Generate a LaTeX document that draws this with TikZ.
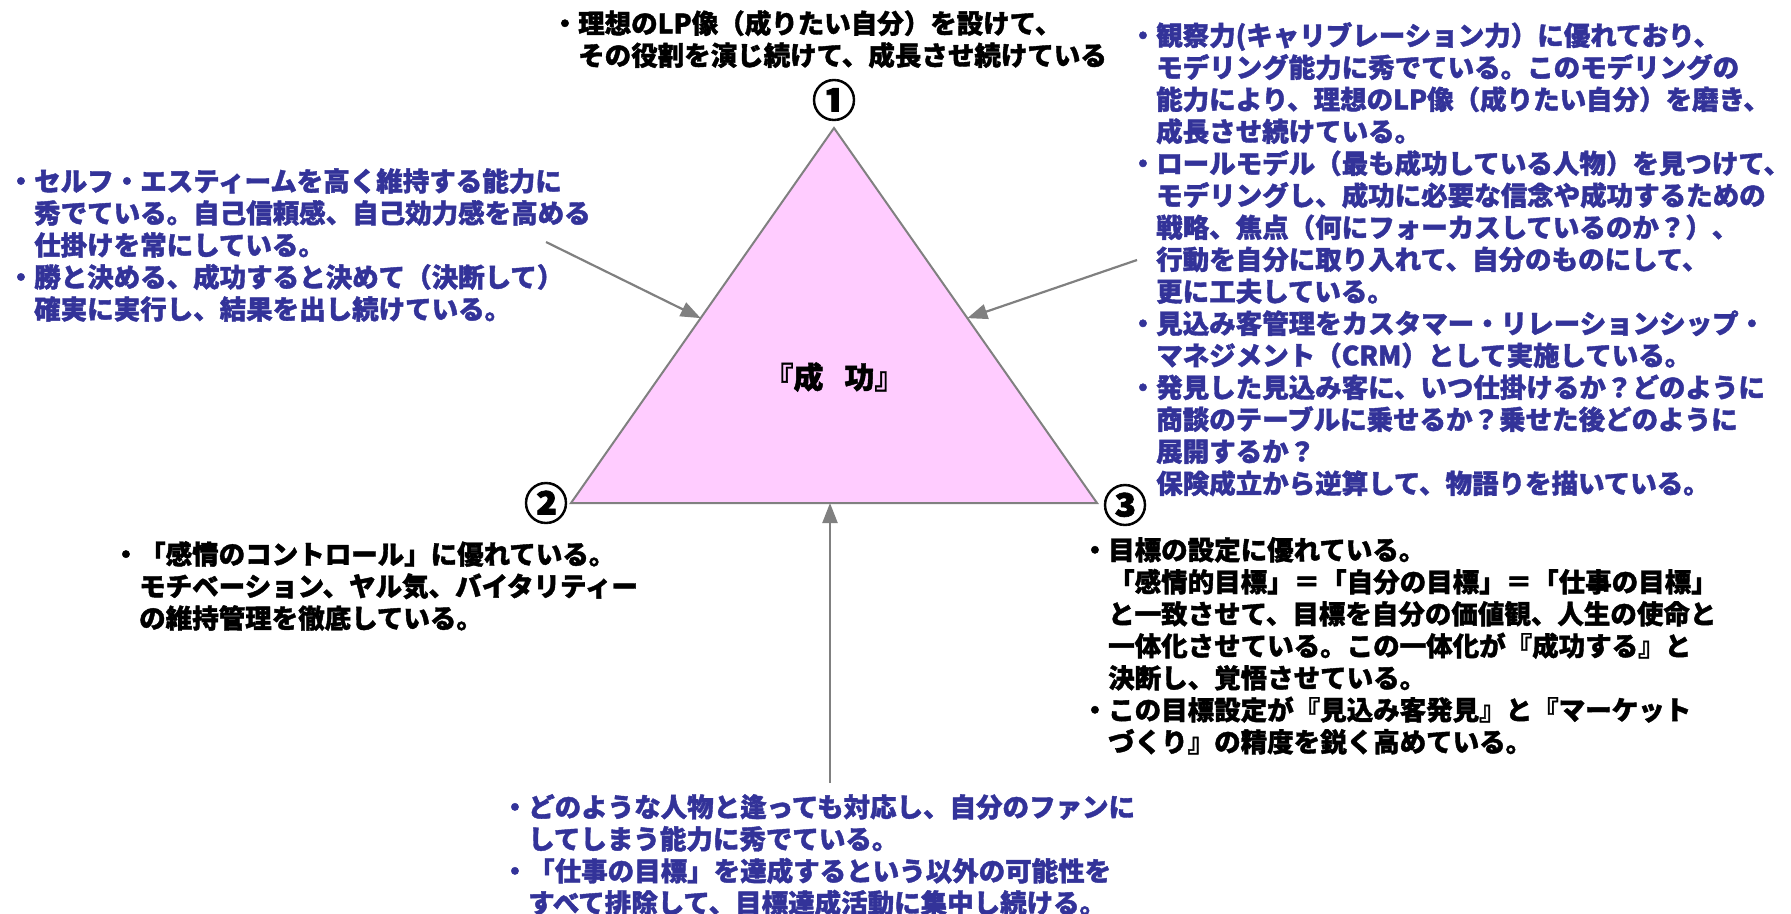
\documentclass[tikz,border=0pt]{standalone}
\usepackage{fontspec}
\setmainfont{Noto Sans CJK JP}[BoldFeatures={FakeBold=1.5}]
\usetikzlibrary{arrows.meta,calc}
\definecolor{txtblue}{RGB}{51,51,153}
\definecolor{tripink}{RGB}{255,204,255}
\definecolor{linegray}{RGB}{128,128,128}
\newcommand{\bul}{\llap{・}}
\begin{document}
\begin{tikzpicture}[x=1pt,y=-1pt,
  blk/.style={anchor=north west, inner sep=0pt, align=left, font=\fontsize{26.5}{32}\selectfont\bfseries},
  blue/.style={blk, text=txtblue},
  black/.style={blk, text=black},
  num/.style={inner sep=0pt, font=\fontsize{44}{44}\selectfont\bfseries},
  tri/.style={draw=linegray, fill=tripink, line width=2pt, line join=miter},
  arr/.style={draw=linegray, line width=2.2pt, -{Triangle[length=20pt,width=15pt]}}
]
\useasboundingbox (0,0) rectangle (1791,913);
% triangle
\coordinate (A) at (834,128);
\coordinate (B) at (571,503);
\coordinate (C) at (1097,503);
\draw[tri] (A) -- (B) -- (C) -- cycle;
\node[font=\fontsize{30}{32}\selectfont\bfseries] (center) at (834,377) {『成\hspace{0.7em}功』};
% numbers
\node[num] (n1) at (834,100) {①};
\node[num] (n2) at (546,503) {②};
\node[num] (n3) at (1125,505) {③};
% text blocks
\node[black] (top) at (578,10) {\bul 理想のLP像（成りたい自分）を設けて、\\その役割を演じ続けて、成長させ続けている};
\node[blue] (right) at (1156,22) {\bul 観察力(キャリブレーション力）に優れており、\\モデリング能力に秀でている。このモデリングの\\能力により、理想のLP像（成りたい自分）を磨き、\\成長させ続けている。\\\bul ロールモデル（最も成功している人物）を見つけて、\\モデリングし、成功に必要な信念や成功するための\\戦略、焦点（何にフォーカスしているのか？）、\\行動を自分に取り入れて、自分のものにして、\\更に工夫している。\\\bul 見込み客管理をカスタマー・リレーションシップ・\\マネジメント（CRM）として実施している。\\\bul 発見した見込み客に、いつ仕掛けるか？どのように\\商談のテーブルに乗せるか？乗せた後どのように\\展開するか？\\保険成立から逆算して、物語りを描いている。};
\node[blue] (left) at (34,168) {\bul セルフ・エスティームを高く維持する能力に\\秀でている。自己信頼感、自己効力感を高める\\仕掛けを常にしている。\\\bul 勝と決める、成功すると決めて（決断して）\\確実に実行し、結果を出し続けている。};
\node[black] (two) at (139,541) {\bul 「感情のコントロール」に優れている。\\モチベーション、ヤル気、バイタリティー\\の維持管理を徹底している。};
\node[black] (three) at (1108,537) {\bul 目標の設定に優れている。\\「感情的目標」＝「自分の目標」＝「仕事の目標」\\と一致させて、目標を自分の価値観、人生の使命と\\一体化させている。この一体化が『成功する』と\\決断し、覚悟させている。\\\bul この目標設定が『見込み客発見』と『マーケット\\づくり』の精度を鋭く高めている。};
\node[blue] (bottom) at (528,794) {\bul どのような人物と逢っても対応し、自分のファンに\\してしまう能力に秀でている。\\\bul 「仕事の目標」を達成するという以外の可能性を\\すべて排除して、目標達成活動に集中し続ける。};
% arrows
\coordinate (s1) at (546,242);
\coordinate (s2) at (1137,260);
\coordinate (s3) at (830,783);
\coordinate (t1) at ($(A)!0.507!(B)$);
\coordinate (t2) at ($(A)!0.507!(C)$);
\coordinate (t3) at (830,503);
\draw[arr] (s1) -- (t1);
\draw[arr] (s2) -- (t2);
\draw[arr] (s3) -- (t3);
\end{tikzpicture}
\end{document}
